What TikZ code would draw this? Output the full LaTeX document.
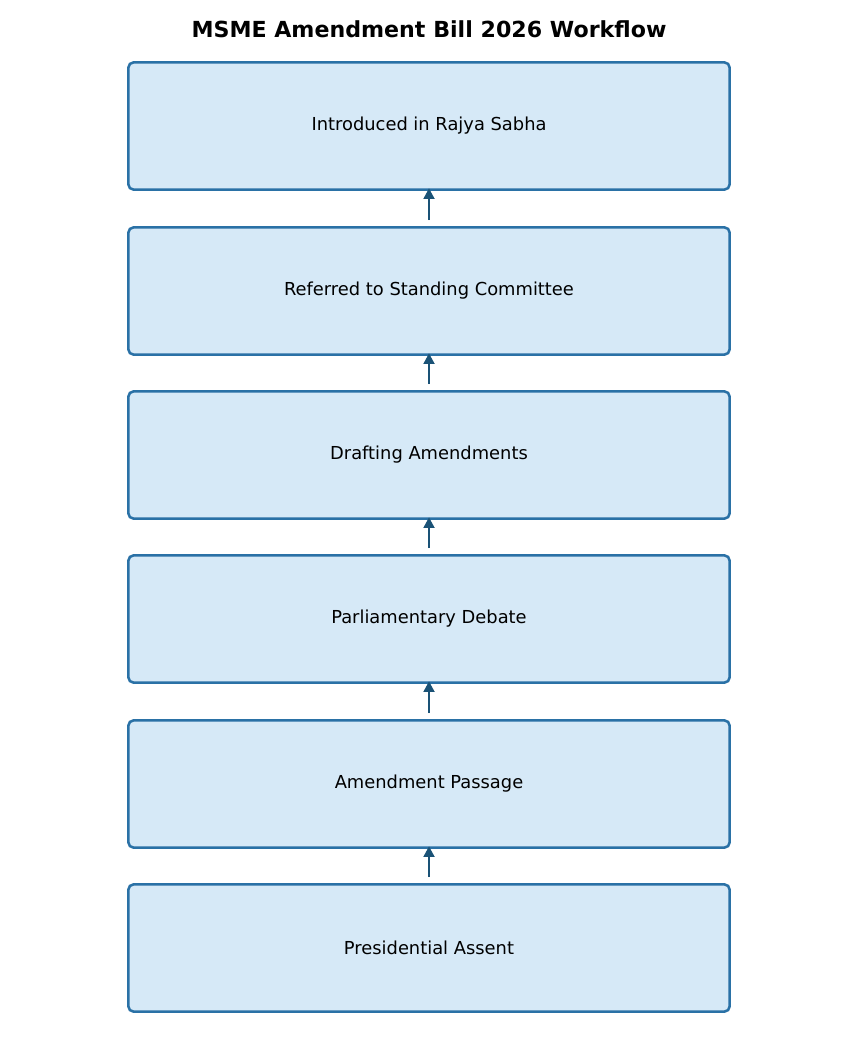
\documentclass[tikz,border=0pt]{standalone}
\usepackage{fontspec}
\setmainfont{DejaVu Sans}
\usepackage{tikz}
\usetikzlibrary{arrows.meta}

\definecolor{boxfill}{RGB}{214,233,247}
\definecolor{boxline}{RGB}{42,113,166}
\definecolor{arrowcol}{RGB}{26,82,118}

\begin{document}
\begin{tikzpicture}[x=0.75pt, y=-0.75pt,
        stage/.style={shape=rectangle, rounded corners=4pt, draw=boxline, fill=boxfill, line width=1.9pt, minimum width=451pt, minimum height=95.5pt, font=\fontsize{13.4pt}{15pt}\selectfont},
        flow/.style={-{Triangle[length=8pt, width=8pt]}, draw=arrowcol, fill=arrowcol, line width=2pt, shorten <=4.5pt, shorten >=-2pt}]
        \useasboundingbox (0, 0) rectangle (858, 1053);
        \node[font=\bfseries\fontsize{16.6pt}{18pt}\selectfont] (T) at (429, 29) {MSME Amendment Bill 2026 Workflow};
        \node[stage] (S1) at (429, 126) {Introduced in Rajya Sabha};
        \node[stage] (S2) at (429, 291) {Referred to Standing Committee};
        \node[stage] (S3) at (429, 455) {Drafting Amendments};
        \node[stage] (S4) at (429, 619) {Parliamentary Debate};
        \node[stage] (S5) at (429, 784) {Amendment Passage};
        \node[stage] (S6) at (429, 948) {Presidential Assent};
        \foreach \a/\b in {S2/S1, S3/S2, S4/S3, S5/S4, S6/S5}
            \draw[flow] (\a.north) to (\b.south);
    \end{tikzpicture}
\end{document}
